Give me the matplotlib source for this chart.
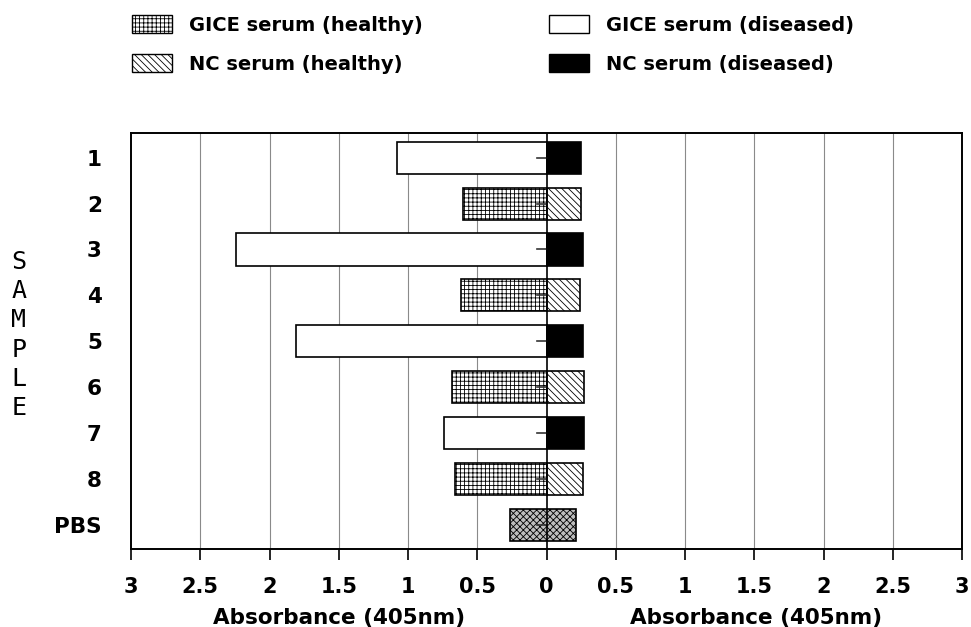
import matplotlib.pyplot as plt
import matplotlib.patches as mpatches

plt.rcParams['font.family'] = ['DejaVu Sans']
plt.rcParams['hatch.linewidth'] = 0.6

samples = ["1", "2", "3", "4", "5", "6", "7", "8", "PBS"]
# left side (GICE serum) and right side (NC serum), absorbance at 405nm
gice_vals = [1.08, 0.60, 2.24, 0.62, 1.81, 0.68, 0.74, 0.66]
nc_vals = [0.25, 0.25, 0.26, 0.24, 0.26, 0.27, 0.27, 0.26]
diseased = [True, False, True, False, True, False, True, False]
err_vals = [0.07, 0.07, 0.07, 0.07, 0.07, 0.07, 0.07, 0.07, 0.07]
pbs_left = 0.26
pbs_right = 0.21

xticks = [-3, -2.5, -2, -1.5, -1, -0.5, 0, 0.5, 1, 1.5, 2, 2.5, 3]
xticklabels = ["3", "2.5", "2", "1.5", "1", "0.5", "0", "0.5", "1", "1.5", "2", "2.5", "3"]

fig = plt.figure(figsize=(9.71, 6.27), dpi=100)
ax = fig.add_axes([131/971, 1-549/627, 831/971, 416/627])

h = 0.7
for i, (g, n, d) in enumerate(zip(gice_vals, nc_vals, diseased)):
    if d:
        ax.barh(i, -g, height=h, color="white", edgecolor="black", lw=1.2, zorder=3)
        ax.barh(i, n, height=h, color="black", edgecolor="black", lw=1.2, zorder=3)
    else:
        ax.barh(i, -g, height=h, color="white", edgecolor="black", hatch="++++", lw=1.2, zorder=3)
        ax.barh(i, n, height=h, color="white", edgecolor="black", hatch="\\\\\\\\\\", lw=1.2, zorder=3)

pbs_i = len(samples) - 1
ax.barh(pbs_i, pbs_left + pbs_right, left=-pbs_left, height=h, color="#bdbdbd",
        edgecolor="black", hatch="xxxxx", lw=1.2, zorder=3)

# small error ticks at the origin
for i, e in enumerate(err_vals):
    ax.plot([-e, 0], [i, i], color="#333333", lw=1.2, zorder=4)

ax.axvline(0, color="black", lw=1.2, zorder=5)
for x in xticks[1:-1]:
    if x != 0:
        ax.axvline(x, color="#8a8a8a", lw=0.8, zorder=1)

ax.set_xlim(-3, 3)
ax.set_ylim(8.53, -0.54)
ax.set_xticks(xticks)
ax.set_xticklabels(xticklabels, fontsize=15, fontweight="bold")
ax.set_yticks(range(len(samples)))
ax.set_yticklabels(samples, fontsize=15.5, fontweight="bold")
ax.tick_params(axis="x", direction="out", length=8, width=1.2, pad=12)
ax.tick_params(axis="y", length=0, pad=21)
for s in ax.spines.values():
    s.set_linewidth(1.4)

fig.text(339/971, 1-624/627, "Absorbance (405nm)", ha="center", va="baseline",
         fontsize=15.5, fontweight="bold")
fig.text(756/971, 1-624/627, "Absorbance (405nm)", ha="center", va="baseline",
         fontsize=15.5, fontweight="bold")
fig.text(19/971, 1-335/627, "\n".join("SAMPLE"), ha="center", va="center",
         fontsize=18, family="DejaVu Sans Mono", linespacing=1.28)

h1 = [mpatches.Patch(facecolor="white", edgecolor="black", hatch="++++", label="GICE serum (healthy)"),
      mpatches.Patch(facecolor="white", edgecolor="black", hatch="\\\\\\\\\\", label="NC serum (healthy)")]
h2 = [mpatches.Patch(facecolor="white", edgecolor="black", label="GICE serum (diseased)"),
      mpatches.Patch(facecolor="black", edgecolor="black", label="NC serum (diseased)")]
leg_kw = dict(loc="upper left", frameon=False, handlelength=2.06, handleheight=1.08,
              labelspacing=1.0, handletextpad=0.9, borderaxespad=0,
              prop={"size": 14, "weight": "bold"})
fig.legend(handles=h1, bbox_to_anchor=(124/971, 1-7/627), **leg_kw)
fig.legend(handles=h2, bbox_to_anchor=(541/971, 1-7/627), **leg_kw)

plt.savefig("out.png", dpi=100)
